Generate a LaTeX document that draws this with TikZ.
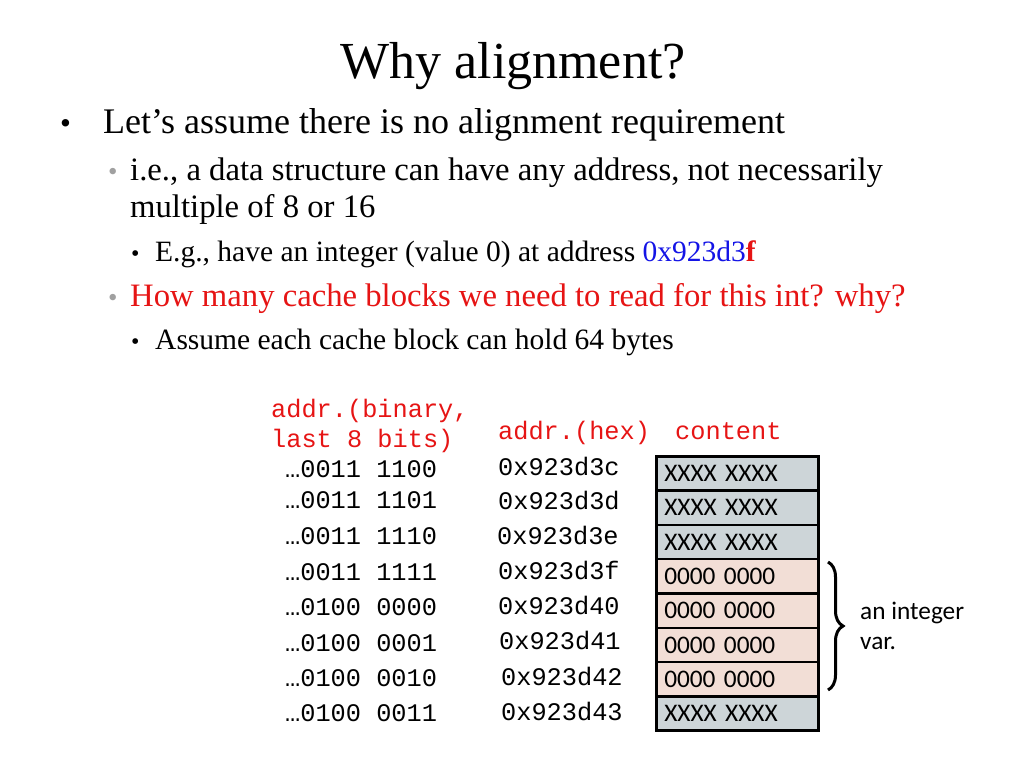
\documentclass[tikz,border=0pt]{standalone}
\usepackage{fontspec}
\setmainfont{Liberation Serif}
\setmonofont{Liberation Mono}
\newfontfamily\calib{Carlito}
\usetikzlibrary{decorations.pathreplacing}
\definecolor{tred}{RGB}{230,20,20}
\definecolor{tblue}{RGB}{20,20,230}
\definecolor{cgray}{RGB}{205,213,216}
\definecolor{cpink}{RGB}{242,222,214}
\definecolor{bgray}{RGB}{160,160,160}
\tikzset{
 txt/.style={anchor=base west,inner sep=0pt},
 mono/.style={txt,font=\fontsize{25.3}{27}\ttfamily},
 cell/.style={draw=black,line width=2.5pt,minimum width=162pt,minimum height=34.3pt,anchor=north west,inner xsep=8pt,inner ysep=0pt,text width=146pt,align=left,font=\fontsize{25.3}{27}\calib},
}
\begin{document}
\begin{tikzpicture}[x=1pt,y=-1pt]
\useasboundingbox (0,0) rectangle (1024,768);
\node[anchor=base,inner sep=0pt,font=\fontsize{52}{56}\selectfont] (title) at (513,78) {Why alignment?};
\node[txt,font=\fontsize{31}{34}\selectfont] (b1d) at (60,133) {\textbullet};
\node[txt,font=\fontsize{36}{38}\selectfont] (b1) at (103,133) {Let’s assume there is no alignment requirement};
\node[txt,font=\fontsize{27}{30}\selectfont,text=bgray] (b2d) at (108,180) {\textbullet};
\node[txt,font=\fontsize{32.7}{34}\selectfont] (b2) at (130,180) {i.e., a data structure can have any address, not necessarily};
\node[txt,font=\fontsize{32.7}{34}\selectfont] (b2b) at (130,217) {multiple of 8 or 16};
\node[txt,font=\fontsize{24}{26}\selectfont] (b3d) at (131,261) {\textbullet};
\node[txt,font=\fontsize{29.5}{31}\selectfont] (b3) at (155,261) {E.g., have an integer (value 0) at address \textcolor{tblue}{0x923d3}\textcolor{tred}{\textbf{f}}};
\node[txt,font=\fontsize{27}{30}\selectfont,text=bgray] (b4d) at (108,306) {\textbullet};
\node[txt,font=\fontsize{32.7}{34}\selectfont,text=tred] (b4) at (130,306) {How many cache blocks we need to read for this int? why?};
\node[txt,font=\fontsize{24}{26}\selectfont] (b5d) at (131,349) {\textbullet};
\node[txt,font=\fontsize{29.5}{31}\selectfont] (b5) at (155,349) {Assume each cache block can hold 64 bytes};
\node[mono,text=tred] (h1) at (271,417) {addr.(binary,};
\node[mono,text=tred] (h2) at (271,447) {last 8 bits)};
\node[mono,text=tred] (h3) at (498,439) {addr.(hex)};
\node[mono,text=tred] (h4) at (675,439) {content};
\foreach \i/\b/\by/\h/\hx/\hy in {0/0011 1100/477/0x923d3c/498/475, 1/0011 1101/508/0x923d3d/498/509, 2/0011 1110/544/0x923d3e/497/544, 3/0011 1111/580/0x923d3f/498/579, 4/0100 0000/615/0x923d40/498/614, 5/0100 0001/651/0x923d41/499/649, 6/0100 0010/686/0x923d42/501/685, 7/0100 0011/721/0x923d43/501/720}{
 \node[mono] (bin\i) at (285,\by) {…\b};
 \node[mono] (hex\i) at (\hx,\hy) {\h};
}
\foreach \i/\t/\c in {0/XXXX XXXX/cgray,1/XXXX XXXX/cgray,2/XXXX XXXX/cgray,3/0000 0000/cpink,4/0000 0000/cpink,5/0000 0000/cpink,6/0000 0000/cpink,7/XXXX XXXX/cgray}{
 \node[cell,fill=\c] (c\i) at (655,455+34.3*\i) {\t};
}
\draw[line width=3pt,decorate,decoration={brace,amplitude=15pt}] (828,562) -- (828,690);
\node[txt,font=\fontsize{25.3}{27}\calib] (lab1) at (860,619) {an integer};
\node[txt,font=\fontsize{25.3}{27}\calib] (lab2) at (860,649) {var.};
\end{tikzpicture}
\end{document}
